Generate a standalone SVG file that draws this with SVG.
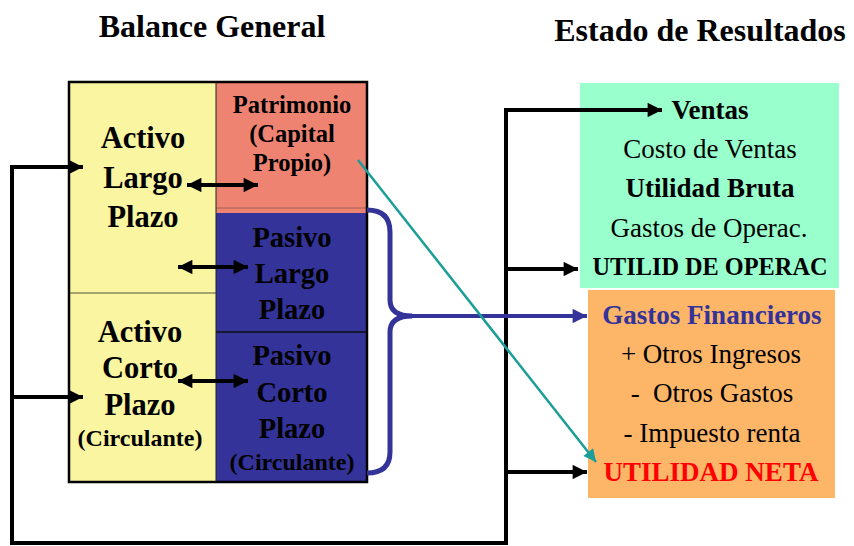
<svg xmlns="http://www.w3.org/2000/svg" width="854" height="546" viewBox="0 0 854 546">
<defs>
<style>
text{font-family:"Liberation Serif","Times New Roman",serif;text-anchor:middle;}
.b{font-weight:bold;}
.title{font-size:32px;font-weight:bold;}
.big{font-size:30.5px;font-weight:bold;}
.mid{font-size:28.5px;font-weight:bold;}
.sm{font-size:24px;font-weight:bold;}
.pat{font-size:24.5px;font-weight:bold;}
.er{font-size:27px;}
.er2{font-size:26px;font-weight:bold;}
.blk{fill:none;stroke:#000;stroke-width:4;}
.dbl{fill:none;stroke:#000;stroke-width:4;marker-start:url(#ahs);marker-end:url(#ahe);}
</style>
<marker id="ahe" viewBox="0 0 10 10" refX="10" refY="5" markerWidth="4" markerHeight="3.6" orient="auto" markerUnits="strokeWidth"><path d="M0,0 L10,5 L0,10 z" fill="#000"/></marker>
<marker id="ahs" viewBox="0 0 10 10" refX="0" refY="5" markerWidth="4" markerHeight="3.6" orient="auto" markerUnits="strokeWidth"><path d="M10,0 L0,5 L10,10 z" fill="#000"/></marker>
<marker id="ahb" viewBox="0 0 10 10" refX="10" refY="5" markerWidth="4" markerHeight="3.6" orient="auto" markerUnits="strokeWidth"><path d="M0,0 L10,5 L0,10 z" fill="#333399"/></marker>
<marker id="aht" viewBox="0 0 10 10" refX="10" refY="5" markerWidth="6" markerHeight="5" orient="auto" markerUnits="strokeWidth"><path d="M0,0 L10,5 L0,10 z" fill="#1a9e9a"/></marker>
</defs>
<rect width="854" height="546" fill="#fff"/>
<text class="title" x="212" y="37">Balance General</text>
<text class="title" x="700" y="41">Estado de Resultados</text>

<g id="activo-largo">
<rect x="69" y="82" width="147" height="211" fill="#faf5a0"/>
<text class="big" x="143" y="148">Activo</text>
<text class="big" x="143" y="188">Largo</text>
<text class="big" x="143" y="227">Plazo</text>
</g>
<g id="activo-corto">
<rect x="69" y="293" width="147" height="189" fill="#faf5a0"/>
<line x1="69" y1="293" x2="216" y2="293" stroke="#8a8a60" stroke-width="1.5"/>
<text class="big" x="140" y="342">Activo</text>
<text class="big" x="140" y="378">Corto</text>
<text class="big" x="140" y="415">Plazo</text>
<text class="sm" x="140" y="446">(Circulante)</text>
</g>
<g id="patrimonio">
<rect x="216" y="82" width="151" height="131" fill="#ef8372"/>
<line x1="216" y1="208" x2="367" y2="208" stroke="#a06050" stroke-width="1"/>
<text class="pat" x="292" y="113">Patrimonio</text>
<text class="pat" x="292" y="142">(Capital</text>
<text class="pat" x="292" y="171">Propio)</text>
</g>
<g id="pasivo-largo">
<rect x="216" y="213" width="151" height="119" fill="#333399"/>
<text class="mid" x="292" y="247">Pasivo</text>
<text class="mid" x="292" y="283">Largo</text>
<text class="mid" x="292" y="319">Plazo</text>
</g>
<g id="pasivo-corto">
<rect x="216" y="332" width="151" height="150" fill="#333399"/>
<line x1="216" y1="332" x2="367" y2="332" stroke="#111" stroke-width="1.5"/>
<text class="mid" x="292" y="365">Pasivo</text>
<text class="mid" x="292" y="402">Corto</text>
<text class="mid" x="292" y="438">Plazo</text>
<text class="sm" x="292" y="470">(Circulante)</text>
</g>
<rect x="69" y="82" width="298" height="400" fill="none" stroke="#000" stroke-width="2.5"/>
<line x1="216" y1="82" x2="216" y2="482" stroke="#222" stroke-width="1"/>

<g id="ventas-box">
<rect x="580" y="83" width="259" height="205" fill="#99ffcc"/>
<text class="er b" x="710" y="119">Ventas</text>
<text class="er" x="710" y="158">Costo de Ventas</text>
<text class="er b" x="710" y="197">Utilidad Bruta</text>
<text class="er" x="709" y="237">Gastos de Operac.</text>
<text class="er2" x="710" y="275" textLength="235" lengthAdjust="spacingAndGlyphs">UTILID DE OPERAC</text>
</g>
<g id="gastos-box">
<rect x="588" y="290" width="247" height="208" fill="#fdb567"/>
<text class="er b" x="712" y="324" fill="#333399">Gastos Financieros</text>
<text class="er" x="711" y="363">+ Otros Ingresos</text>
<text class="er" x="712" y="402" xml:space="preserve">-  Otros Gastos</text>
<text class="er" x="712" y="442">- Impuesto renta</text>
<text class="er b" x="711" y="481" fill="#ff0000">UTILIDAD NETA</text>
</g>

<g id="connectors">
<path class="blk" d="M83,167 H12 V543 H506 V110 H662" marker-end="url(#ahe)"/>
<path class="blk" d="M12,167 H83" marker-end="url(#ahe)"/>
<path class="blk" d="M12,397 H83" marker-end="url(#ahe)"/>
<path class="blk" d="M506,269 H578" marker-end="url(#ahe)"/>
<path class="blk" d="M506,472 H587" marker-end="url(#ahe)"/>
<line class="dbl" x1="187" y1="185" x2="258" y2="185"/>
<line class="dbl" x1="178" y1="267" x2="248" y2="267"/>
<line class="dbl" x1="178" y1="381" x2="248" y2="381"/>
<path d="M367,210 Q390,210 390,232 V300 Q390,316 412,316 Q390,316 390,332 V452 Q390,473 367,473" fill="none" stroke="#333399" stroke-width="5"/>
<line x1="410" y1="316" x2="587" y2="316" stroke="#333399" stroke-width="4" marker-end="url(#ahb)"/>
<line x1="358" y1="160" x2="596" y2="462" stroke="#1a9e9a" stroke-width="2.5" marker-end="url(#aht)"/>
</g>
</svg>
